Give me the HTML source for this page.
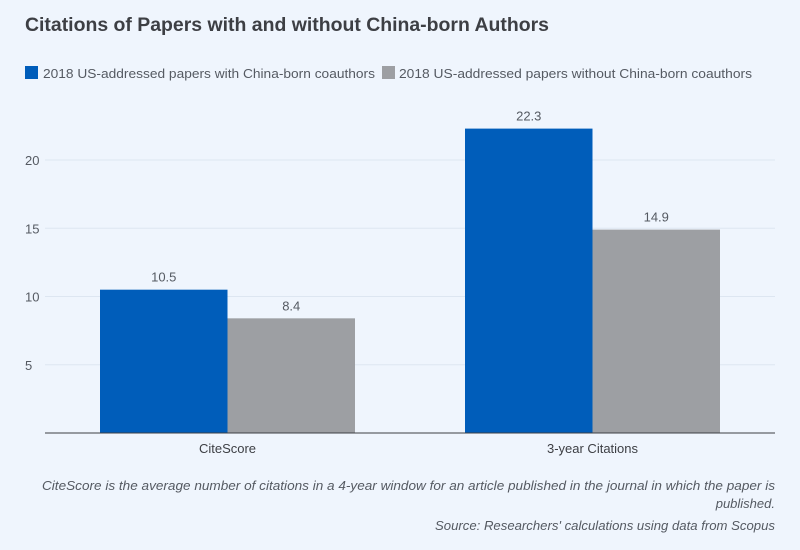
<!DOCTYPE html>
<html><head><meta charset="utf-8"><style>
body{margin:0;background:#eff5fd;}
svg{display:block;font-family:"Liberation Sans",sans-serif;}
</style></head><body>
<svg id="chart" width="800" height="550">
<rect width="800" height="550" fill="#eff5fd"/>
<text x="25" y="31" font-size="19" font-weight="bold" fill="#3d3f44" textLength="524" lengthAdjust="spacingAndGlyphs">Citations of Papers with and without China-born Authors</text>
<g>
<rect x="25" y="66" width="13" height="13" fill="#005dba"/>
<text x="43" y="78" font-size="13" fill="#555a62" textLength="332" lengthAdjust="spacingAndGlyphs">2018 US-addressed papers with China-born coauthors</text>
<rect x="382" y="66" width="13" height="13" fill="#9d9fa3"/>
<text x="399" y="78" font-size="13" fill="#555a62" textLength="353" lengthAdjust="spacingAndGlyphs">2018 US-addressed papers without China-born coauthors</text>
</g>
<g id="grid"></g><g id="bars"></g>
<line x1="45" x2="775" y1="433" y2="433" stroke="#3d3f44" stroke-width="1"/>
<text x="775" y="490" font-size="13" font-style="italic" fill="#555a62" text-anchor="end" textLength="733" lengthAdjust="spacingAndGlyphs">CiteScore is the average number of citations in a 4-year window for an article published in the journal in which the paper is</text>
<text x="775" y="508" font-size="13" font-style="italic" fill="#555a62" text-anchor="end">published.</text>
<text x="775" y="530" font-size="13" font-style="italic" fill="#555a62" text-anchor="end" textLength="340" lengthAdjust="spacingAndGlyphs">Source: Researchers' calculations using data from Scopus</text>
</svg>
<script>
const categories=["CiteScore","3-year Citations"];
const withChina=[10.5,22.3];
const withoutChina=[8.4,14.9];
const ticks=[5,10,15,20];
const NS="http://www.w3.org/2000/svg";
const y0=433,pxPerUnit=(433-160)/20;
const y=v=>y0-v*pxPerUnit;
const x0=45,x1=775,band=(x1-x0)/categories.length;
const cx=i=>x0+band*(i+0.5);
function mk(tag,attrs,parent,txt){const e=document.createElementNS(NS,tag);for(const k in attrs)e.setAttribute(k,attrs[k]);if(txt!==undefined)e.textContent=txt;parent.appendChild(e);return e;}
const grid=document.getElementById('grid'),bars=document.getElementById('bars');
ticks.forEach(t=>{
 const l=mk('line',{x1:45,x2:775,y1:y(t),y2:y(t),stroke:'#dde6f1','stroke-width':1},grid);
 
 
 const tx=mk('text',{x:25,y:y(t)+5,'font-size':13,fill:'#555a62'},grid,String(t));
 
 
});
const bw=127.5;
categories.forEach((c,i)=>{
 const c0=cx(i);
 [[withChina[i],'#005dba',c0-bw,'with'],[withoutChina[i],'#9d9fa3',c0,'without']].forEach(([v,col,bx,nm])=>{
  const r=mk('rect',{x:bx,y:y(v),width:bw,height:y0-y(v),fill:col},bars);
  
  
  const t=mk('text',{x:bx+bw/2,y:y(v)-8,'font-size':13,fill:'#555a62','text-anchor':'middle'},bars,v.toFixed(1));
  
  
 });
 const ct=mk('text',{x:c0,y:453,'font-size':13,fill:'#3d3f44','text-anchor':'middle'},bars,c);
 
 
});
</script>
</body></html>
